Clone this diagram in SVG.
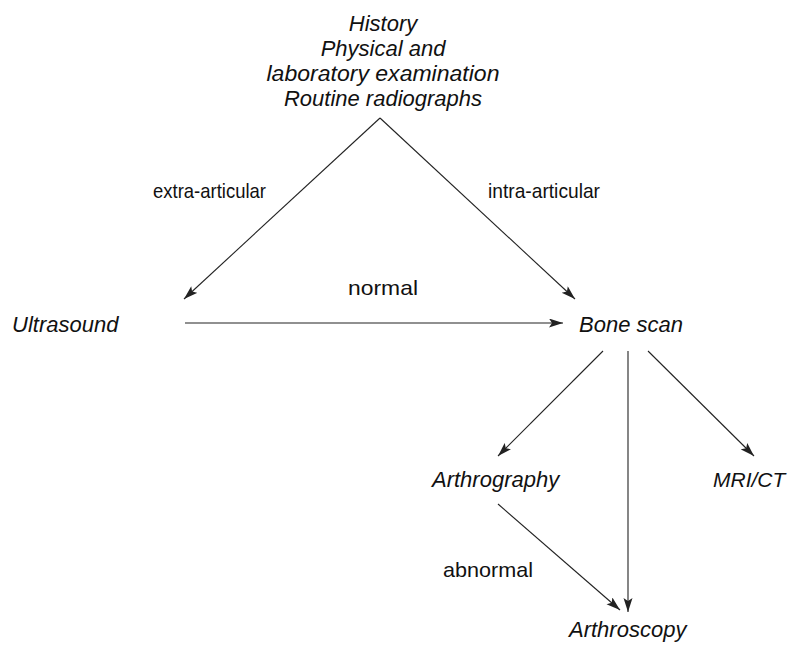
<svg xmlns="http://www.w3.org/2000/svg" width="791" height="646" viewBox="0 0 791 646">
<style>
.node{font-family:"Liberation Sans",Arial,sans-serif;font-style:italic;font-size:22px;fill:#111;}
.lbl{font-family:"Liberation Sans",Arial,sans-serif;font-size:21px;fill:#111;}
.edge{stroke:#222;stroke-width:1.1;fill:none;marker-end:url(#arr);}
</style>
<defs>
<marker id="arr" markerUnits="userSpaceOnUse" markerWidth="15" markerHeight="10" refX="14" refY="4.5" orient="auto">
<path d="M0,0 L14,4.5 L0,9 L3,4.5 Z" fill="#222"/>
</marker>
</defs>
<rect width="791" height="646" fill="#fff"/>
<g id="connectors">
<path class="edge" d="M380,118 L184,299"/>
<path class="edge" d="M380,118 L575,299"/>
<path class="edge" d="M185,323 L563,323"/>
<path class="edge" d="M603,351 L498,456"/>
<path class="edge" d="M628,351 L628,612"/>
<path class="edge" d="M648,351 L754,456"/>
<path class="edge" d="M498,504 L620,610"/>
</g>
<g id="labels">
<text class="lbl" x="153" y="198" textLength="113" lengthAdjust="spacingAndGlyphs">extra-articular</text>
<text class="lbl" x="488" y="198" textLength="112" lengthAdjust="spacingAndGlyphs">intra-articular</text>
<text class="lbl" x="348" y="295" textLength="70" lengthAdjust="spacingAndGlyphs">normal</text>
<text class="lbl" x="443" y="577" textLength="90" lengthAdjust="spacingAndGlyphs">abnormal</text>
</g>
<g id="start">
<text class="node" x="383" y="31" text-anchor="middle">History</text>
<text class="node" x="383" y="56" text-anchor="middle">Physical and</text>
<text class="node" x="383" y="81" text-anchor="middle" textLength="233" lengthAdjust="spacingAndGlyphs">laboratory examination</text>
<text class="node" x="383" y="106" text-anchor="middle">Routine radiographs</text>
</g>
<g id="ultrasound"><text class="node" x="12" y="332">Ultrasound</text></g>
<g id="bonescan"><text class="node" x="579" y="332">Bone scan</text></g>
<g id="arthrography"><text class="node" x="432" y="487">Arthrography</text></g>
<g id="mrict"><text class="node" x="713" y="487" style="font-size:21px">MRI/CT</text></g>
<g id="arthroscopy"><text class="node" x="569" y="637">Arthroscopy</text></g>
</svg>
